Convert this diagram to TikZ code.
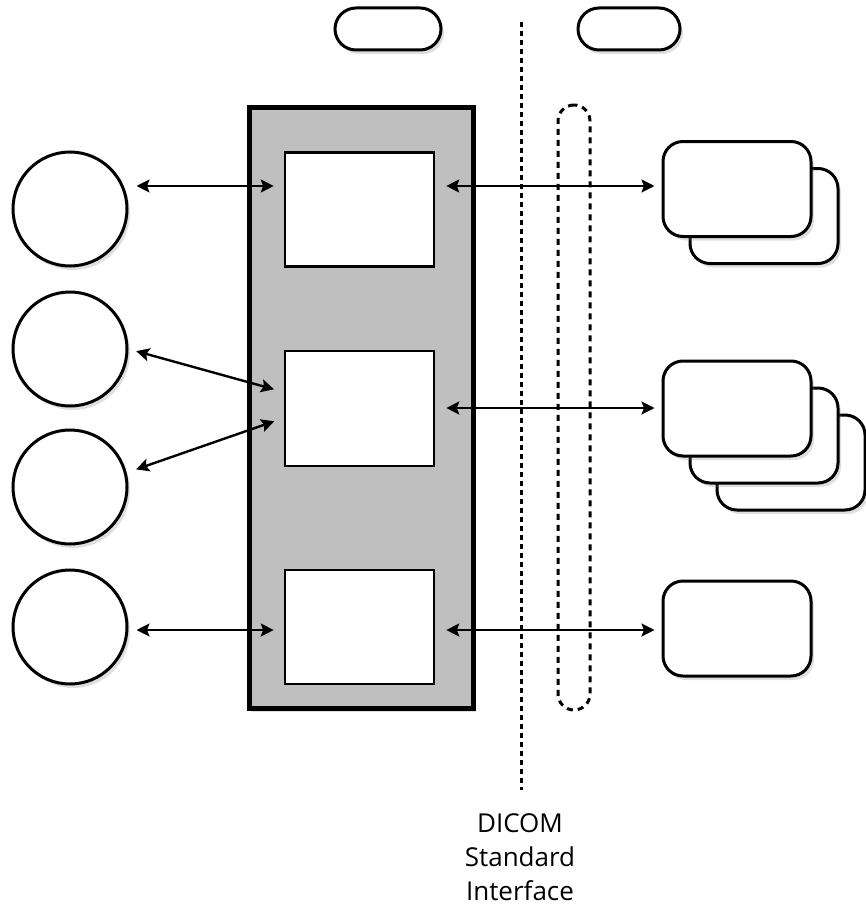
\documentclass[tikz,border=0pt]{standalone}
\usepackage{fontspec}
\newfontfamily\dicomfont{Open Sans}
\usetikzlibrary{arrows.meta,shadows}

\begin{document}
\begin{tikzpicture}[x=1pt, y=-1pt,
  softshadow/.style={drop shadow={shadow xshift=3pt, shadow yshift=-4pt, opacity=0.25}},
  client/.style={circle, draw, line width=3pt, fill=white, minimum size=114pt, inner sep=0pt, softshadow},
  module/.style={rectangle, draw, line width=2.6pt, fill=white, minimum width=149pt, minimum height=114pt, inner sep=0pt},
  device/.style={rectangle, rounded corners=20pt, draw, line width=3pt, fill=white, minimum width=148pt, minimum height=95pt, inner sep=0pt, softshadow},
  pill/.style={rectangle, rounded corners=21pt, draw, line width=3pt, fill=white, minimum height=42pt, inner sep=0pt, softshadow},
  link/.style={{Stealth[length=13pt,width=13pt,inset=2.5pt]}-{Stealth[length=13pt,width=13pt,inset=2.5pt]}, line width=2.4pt}
]
  \useasboundingbox (0,0) rectangle (865,907);

  % top
  \node[pill, minimum width=106pt] (p1) at (388,29) {};
  \node[pill, minimum width=102pt] (p2) at (629,29) {};

  % interface line
  \draw[line width=3pt, dash pattern=on 5pt off 4pt] (521,22) -- (521,790);
  \node[align=center, font=\dicomfont\fontsize{26}{34}\selectfont, anchor=north] (std) at (520,810) {DICOM\\Standard\\Interface};

  % clients
  \node[client] (c1) at (70,209) {};
  \node[client] (c2) at (70,349) {};
  \node[client] (c3) at (70,487) {};
  \node[client] (c4) at (70,627) {};

  % hub
  \node[draw, line width=5pt, fill=black!25, minimum width=224pt, minimum height=601pt, softshadow] (hub) at (361,407.5) {};
  \node[module] (b1) at (359.5,209.5) {};
  \node[module, minimum height=115pt] (b2) at (359.5,408.5) {};
  \node[module] (b3) at (359.5,627) {};

  % devices
  \node[device] (d1b) at (764,216) {};
  \node[device] (d1a) at (737,189) {};
  \node[device] (d2c) at (791,462.5) {};
  \node[device] (d2b) at (764,435.5) {};
  \node[device] (d2a) at (737,408.5) {};
  \node[device] (d3) at (737,628.5) {};

  \node[draw, line width=3pt, dash pattern=on 6pt off 5pt, rounded corners=16pt, minimum width=32pt, minimum height=605pt] (bus) at (574,407.5) {};

  % links
  \coordinate (l1) at ([yshift=23pt]c1.east);
  \draw[link, shorten <=8pt, shorten >=10pt] (l1) -- (l1 -| b1.west);
  \draw[link, shorten <=8pt, shorten >=10pt] (c2.east) -- ([yshift=16.5pt]b2.west);
  \draw[link, shorten <=8pt, shorten >=10pt] ([yshift=15pt]c3.east) -- ([yshift=-9.5pt]b2.west);
  \coordinate (l4) at ([yshift=-3pt]c4.east);
  \draw[link, shorten <=8pt, shorten >=10pt] (l4) -- (l4 -| b3.west);

  \coordinate (r1) at ([yshift=23.5pt]b1.east);
  \draw[link, shorten <=11pt, shorten >=7pt] (r1) -- (r1 -| d1a.west);
  \coordinate (r2) at ([yshift=0.5pt]b2.east);
  \draw[link, shorten <=11pt, shorten >=7pt] (r2) -- (r2 -| d2a.west);
  \coordinate (r3) at ([yshift=-3pt]b3.east);
  \draw[link, shorten <=11pt, shorten >=7pt] (r3) -- (r3 -| d3.west);
\end{tikzpicture}
\end{document}
